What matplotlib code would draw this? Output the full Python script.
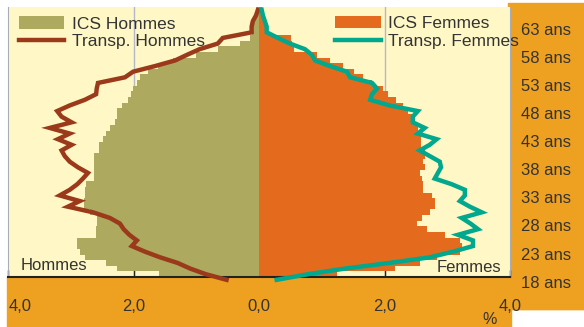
import numpy as np
import matplotlib
matplotlib.use("Agg")
import matplotlib.pyplot as plt
from matplotlib.patches import Rectangle
from matplotlib.transforms import blended_transform_factory

plt.rcParams['font.family'] = ['Liberation Sans', 'DejaVu Sans']

# data (percent of population by age)
bar_ages = list(range(18, 66))
men_ics = [1.6, 2.27, 2.44, 2.78, 2.86, 2.91, 2.91, 2.6, 2.6, 2.58,
           2.58, 2.7, 2.8, 2.8, 2.78, 2.78, 2.76, 2.63, 2.63, 2.63,
           2.63, 2.63, 2.55, 2.55, 2.49, 2.44, 2.38, 2.3, 2.27, 2.27,
           2.19, 2.09, 2.05, 2.01, 1.95, 1.9, 1.77, 1.61, 1.37, 1.0,
           0.66, 0.3, 0.15, 0.12, 0.1, 0.08, 0.06, 0.04]
women_ics = [1.24, 2.16, 2.56, 2.83, 3.2, 3.23, 3.2, 2.96, 2.67, 2.52,
             2.6, 2.72, 2.8, 2.8, 2.75, 2.61, 2.61, 2.6, 2.56, 2.64,
             2.61, 2.64, 2.64, 2.58, 2.58, 2.55, 2.53, 2.45, 2.45, 2.37,
             2.29, 2.19, 2.05, 1.97, 1.8, 1.65, 1.52, 1.33, 1.13, 0.92,
             0.55, 0.52, 0.5, 0.12, 0.1, 0.08, 0.06, 0.04]

line_ages = list(range(17, 66))
men_transp = [0.52, 0.85, 1.1, 1.3, 1.58, 1.82, 2.03, 1.95, 2.07, 2.16,
              2.22, 2.38, 2.65, 3.05, 2.86, 3.18, 3.02, 2.9, 2.81, 2.73,
              2.89, 3.02, 3.1, 3.15, 2.99, 3.21, 3.02, 3.34, 2.99, 3.15,
              3.22, 3.02, 2.78, 2.6, 2.59, 2.57, 2.14, 2.01, 1.66, 1.34,
              1.15, 0.95, 0.66, 0.58, 0.12, 0.12, 0.1, 0.05, 0.02]
women_transp = [0.28, 0.78, 1.37, 2.08, 2.72, 3.09, 3.41, 3.41, 3.17, 3.49,
                3.37, 3.23, 3.55, 3.36, 3.2, 3.28, 3.28, 3.07, 2.8, 2.85,
                2.9, 2.88, 2.72, 2.56, 2.72, 2.83, 2.53, 2.64, 2.45, 2.45,
                2.53, 2.08, 1.77, 1.8, 1.88, 1.8, 1.45, 1.4, 1.13, 0.89,
                0.84, 0.73, 0.49, 0.3, 0.12, 0.12, 0.09, 0.06, 0.04]

age_labels = [18, 23, 28, 33, 38, 43, 48, 53, 58, 63]
xticks = [-4, -2, 0, 2, 4]
xtick_labels = ["4,0", "2,0", "0,0", "2,0", "4,0"]

orange = "#EEA020"
text_col = "#333333"
fs = 11.5

W, H = 584, 327
fig = plt.figure(figsize=(W / 100, H / 100), dpi=100)

# orange frame pieces (pixel coords from top-left)
for x0, y0, x1, y1 in [(508, 3, 584, 309), (7, 277, 584, 309), (7, 309, 511, 327)]:
    fig.patches.append(Rectangle((x0 / W, 1 - y1 / H), (x1 - x0) / W, (y1 - y0) / H,
                                 transform=fig.transFigure, color=orange, zorder=-10))

ax = fig.add_axes([8.3 / W, 1 - 277 / H, (510 - 8.3) / W, 270 / H])
ax.set_facecolor("#FFF8C6")

for gx in [-2, 2]:
    ax.axvline(gx, color="#B5B9C6", lw=1.0, zorder=0)

bm = ax.barh(bar_ages, -np.array(men_ics), height=1.0, color="#ADAA5F", zorder=2)
bw = ax.barh(bar_ages, women_ics, height=1.0, color="#E46B1D", zorder=2)
lm, = ax.plot(-np.array(men_transp), line_ages, color="#9B3A1B", lw=3.2, zorder=3,
              clip_on=False, solid_joinstyle="miter")
lw_, = ax.plot(women_transp, line_ages, color="#00A88E", lw=3.2, zorder=3,
               clip_on=False, solid_joinstyle="miter")

ax.set_xlim(-4, 4)
ax.set_ylim(17.5, 65.5)
ax.set_yticks([])
ax.set_xticks(xticks)
ax.set_xticklabels(xtick_labels, fontsize=fs + 0.5, color=text_col)
ax.get_xticklabels()[0].set_ha("left")
ax.tick_params(axis="x", direction="in", length=5, width=1, color="#222222", pad=16)

ax.spines["top"].set_visible(False)
ax.spines["left"].set_color("#A8ACB8")
ax.spines["right"].set_color("#A8ACB8")
ax.spines["bottom"].set_color("#222222")
ax.spines["bottom"].set_linewidth(1.5)

# age labels on the right strip
trans = blended_transform_factory(fig.transFigure, ax.transData)
for a in age_labels:
    ax.text(521 / W, a - 1.6, f"{a} ans", transform=trans,
            fontsize=fs + 0.5, color=text_col, va="center", ha="left", clip_on=False)

ax.text(0.025, 0.041, "Hommes", transform=ax.transAxes, fontsize=fs + 0.5, color=text_col, va="center", ha="left")
ax.text(0.983, 0.037, "Femmes", transform=ax.transAxes, fontsize=fs + 0.5, color=text_col, va="center", ha="right")
fig.text(490 / W, 1 - 320 / H, "%", fontsize=fs, color=text_col, va="center", ha="center")

leg1 = ax.legend([bm, lm], ["ICS Hommes", "Transp. Hommes"], loc="upper left",
                 bbox_to_anchor=(0.022, 0.965), frameon=False, fontsize=fs + 1,
                 handlelength=2.6, handletextpad=0.45, labelspacing=0.12,
                 borderpad=0, borderaxespad=0, labelcolor=text_col)
ax.add_artist(leg1)
ax.legend([bw, lw_], ["ICS Femmes", "Transp. Femmes"], loc="upper left",
          bbox_to_anchor=(0.652, 0.968), frameon=False, fontsize=fs + 1,
          handlelength=2.6, handletextpad=0.45, labelspacing=0.2,
          borderpad=0, borderaxespad=0, labelcolor=text_col)

fig.savefig("out.png", dpi=100)
